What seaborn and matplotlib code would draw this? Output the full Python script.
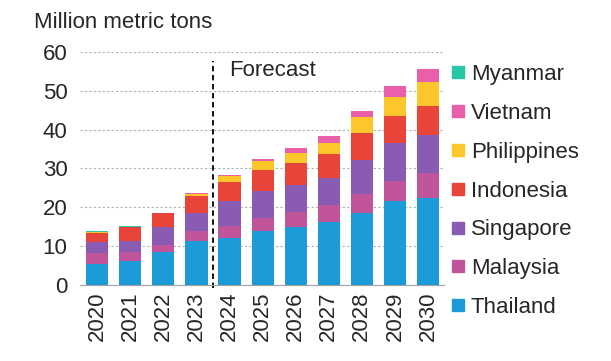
import numpy as np
import pandas as pd
import matplotlib
matplotlib.use('Agg')
import matplotlib.pyplot as plt
from matplotlib.lines import Line2D
import seaborn as sns

# данные (млн метрических тонн)
years = ['2020', '2021', '2022', '2023', '2024', '2025', '2026', '2027', '2028', '2029', '2030']
thailand = [5.4, 6.2, 8.4, 11.3, 12.0, 13.9, 14.8, 16.2, 18.6, 21.5, 22.3]
malaysia = [2.8, 2.2, 1.9, 2.5, 3.1, 3.2, 4.0, 4.3, 4.9, 5.3, 6.6]
singapore = [2.9, 2.8, 4.5, 4.8, 6.5, 7.1, 6.9, 6.9, 8.7, 9.7, 9.6]
indonesia = [2.3, 3.7, 3.6, 4.3, 5.0, 5.4, 5.7, 6.4, 6.8, 7.0, 7.6]
philippines = [0.1, 0.0, 0.0, 0.4, 1.5, 2.2, 2.6, 2.8, 4.2, 4.8, 6.1]
vietnam = [0.0, 0.0, 0.0, 0.3, 0.3, 0.7, 1.3, 1.7, 1.7, 2.9, 3.4]
myanmar = [0.4, 0.2, 0.0, 0.0, 0.0, 0.0, 0.0, 0.0, 0.0, 0.0, 0.0]

series = [
    ('Thailand', thailand, '#1b9bd8'),
    ('Malaysia', malaysia, '#c0559c'),
    ('Singapore', singapore, '#8a5bb3'),
    ('Indonesia', indonesia, '#e8443a'),
    ('Philippines', philippines, '#fdc72c'),
    ('Vietnam', vietnam, '#e95fa9'),
    ('Myanmar', myanmar, '#27c6a4'),
]

sns.set_style('white')
plt.rcParams['font.family'] = ['Liberation Sans', 'DejaVu Sans']
fs = 16

fig = plt.figure(figsize=(6.11, 3.61), dpi=100)
ax = fig.add_axes([0.131, 0.211, 0.596, 0.645])

bottom = np.zeros(len(years))
for name, vals, col in series:
    df = pd.DataFrame({'year': years, 'value': vals})
    sns.barplot(data=df, x='year', y='value', color=col, width=0.67,
                bottom=bottom, ax=ax, saturation=1, linewidth=0)
    bottom = bottom + np.array(vals)

ax.set_ylim(0, 60)
ax.set_xlim(-0.52, len(years) - 0.51)
ax.set_yticks(range(0, 61, 10))
ax.yaxis.grid(True, linestyle=(0, (2, 2)), color='#b0b0b0', linewidth=0.8)
ax.set_axisbelow(True)
for s in ['top', 'right', 'left']:
    ax.spines[s].set_visible(False)
ax.spines['bottom'].set_color('#a0a0a0')
ax.tick_params(axis='both', length=0, labelsize=fs)
ax.tick_params(axis='y', pad=9)
ax.tick_params(axis='x', rotation=90, pad=5)
ax.set_xlabel('')
ax.set_ylabel('')

# линия прогноза
ax.plot([3.5, 3.5], [-0.8, 57.7], color='black', linestyle=(0, (3, 2)),
        linewidth=1.3, clip_on=False)
ax.text(4.0, 55.2, 'Forecast', fontsize=fs, va='center', ha='left')

fig.text(0.056, 0.938, 'Million metric tons', fontsize=fs, va='center', ha='left')

handles = [Line2D([0], [0], marker='s', color='none', markerfacecolor=col,
                  markeredgecolor=col, markersize=8, label=name)
           for name, vals, col in reversed(series)]
fig.legend(handles=handles, loc='upper left', bbox_to_anchor=(0.738, 0.822),
           frameon=False, fontsize=fs, handlelength=0.6, handletextpad=0.3,
           labelspacing=0.8, borderaxespad=0, borderpad=0)

plt.savefig('out.png', dpi=100)
